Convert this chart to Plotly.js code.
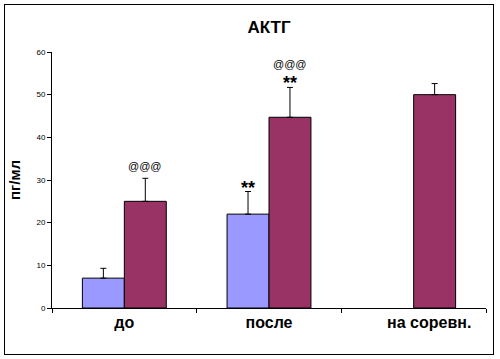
<!DOCTYPE html>
<html>
<head>
<meta charset="utf-8">
<script src="https://cdn.plot.ly/plotly-3.0.1.min.js"></script>
<style>
  html, body { margin: 0; padding: 0; background: #ffffff; }
  #wrap { position: relative; width: 500px; height: 359px; }
  #chart { position: absolute; left: 0; top: 0; width: 500px; height: 359px; }
  #frame { position: absolute; left: 4px; top: 4px; width: 488px; height: 349px;
           border: 1px solid #000; pointer-events: none; }
</style>
</head>
<body>
<div id="wrap"><div id="chart"></div><div id="frame"></div></div>
<script>
// ---- data ----
const categories = ['до', 'после', 'на соревн.'];
const tickLabels = ['до', 'после', '\u00a0\u00a0\u00a0\u00a0\u00a0\u00a0\u00a0на соревн.'];
const seriesA = [7, 22, null];
const seriesAErr = [2.3, 5.3, null];
const seriesB = [25, 44.7, 50];
const seriesBErr = [5.4, 7.0, 2.6];
// significance marks: [category index, series ('A' or 'B'), text]
const marksText = ['@@@', '**', '**', '@@@'];
const marksCat = [0, 1, 1, 1];
const marksSeries = ['B', 'A', 'B', 'B'];

const FONT = 'Arial, "Liberation Sans", sans-serif';

const traceA = {
  type: 'bar', x: categories, y: seriesA, name: 'A',
  marker: { color: '#9999FF', line: { color: '#000000', width: 1 } },
  error_y: { type: 'data', symmetric: false, array: seriesAErr, arrayminus: seriesAErr.map(() => 0),
             color: '#000000', thickness: 1, width: 3 }
};
const traceB = {
  type: 'bar', x: categories, y: seriesB, name: 'B',
  marker: { color: '#993366', line: { color: '#000000', width: 1 } },
  error_y: { type: 'data', symmetric: false, array: seriesBErr, arrayminus: seriesBErr.map(() => 0),
             color: '#000000', thickness: 1, width: 3 }
};

const bargap = 0.42;
const half = (1 - bargap) / 4;
const annotations = marksText.map((t, i) => {
  const c = marksCat[i];
  const s = marksSeries[i];
  const top = s === 'A' ? seriesA[c] + seriesAErr[c] : seriesB[c] + seriesBErr[c];
  const isAt = t.indexOf('@') >= 0;
  let shift;
  const sameBarCount = marksText.filter((_, j) => marksCat[j] === c && marksSeries[j] === s).length;
  if (isAt) shift = sameBarCount > 1 ? 23 : 12;
  else shift = 4;
  return {
    x: c + (s === 'A' ? -half : half), xref: 'x',
    y: top, yref: 'y', yanchor: 'middle', yshift: shift,
    text: t, showarrow: false,
    font: isAt ? { family: FONT, size: 11, color: '#000000' }
               : { family: FONT, size: 18, color: '#000000', weight: 'bold' }
  };
});

const layout = {
  width: 500, height: 359,
  margin: { l: 52, r: 14, t: 52, b: 51 },
  paper_bgcolor: '#ffffff', plot_bgcolor: '#ffffff',
  showlegend: false,
  barmode: 'group', bargap: bargap, bargroupgap: 0,
  title: { text: '<b>АКТГ</b>', font: { family: FONT, size: 17, color: '#000000' },
           x: 0.5, xref: 'paper', y: 1 - 27 / 359, yref: 'container', yanchor: 'middle' },
  xaxis: {
    type: 'category', tickvals: categories, ticktext: tickLabels,
    range: [-0.5, 2.5],
    showline: true, linecolor: '#000000', linewidth: 1,
    ticks: 'outside', tickson: 'boundaries', ticklen: 4, tickcolor: '#000000', tickwidth: 1,
    tickfont: { family: FONT, size: 16, color: '#000000', weight: 'bold' },
    showgrid: false, zeroline: false, fixedrange: true
  },
  yaxis: {
    range: [0, 60], dtick: 10, tick0: 0,
    showline: true, linecolor: '#000000', linewidth: 1,
    ticks: 'outside', ticklen: 4, tickcolor: '#000000', tickwidth: 1,
    tickfont: { family: FONT, size: 8, color: '#000000' },
    showgrid: false, zeroline: false, fixedrange: true,
    title: { text: '<b>пг/мл</b>', font: { family: FONT, size: 15, color: '#000000' }, standoff: 12 }
  },
  annotations: annotations
};

Plotly.newPlot('chart', [traceA, traceB], layout, { displayModeBar: false, staticPlot: true });
</script>
</body>
</html>
